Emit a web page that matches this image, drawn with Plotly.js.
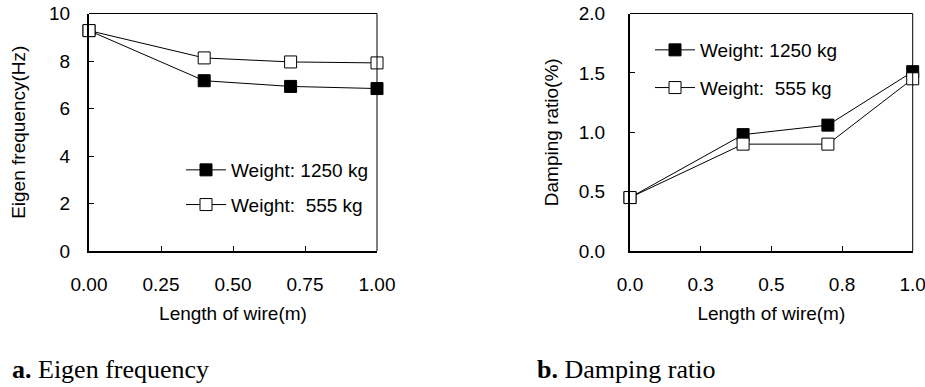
<!DOCTYPE html>
<html>
<head>
<meta charset="utf-8">
<script src="https://cdn.plot.ly/plotly-3.0.1.min.js"></script>
<style>html,body{margin:0;padding:0;background:#fff}#chart{width:925px;height:387px}</style>
</head>
<body>
<div id="chart"></div>
<script>
// Data
const wireLength = [0, 0.4, 0.7, 1.0];
const freq1250 = [9.28, 7.17, 6.93, 6.84];
const freq555 = [9.28, 8.13, 7.96, 7.92];
const damp1250 = [0.45, 0.98, 1.06, 1.51];
const damp555 = [0.45, 0.90, 0.90, 1.45];
const seriesNames = ['Weight: 1250 kg', 'Weight:  555 kg'];
const xTickValsA = [0, 0.25, 0.5, 0.75, 1.0];
const xTickTextA = ['0.00', '0.25', '0.50', '0.75', '1.00'];
const xTickTextB = ['0.0', '0.3', '0.5', '0.8', '1.0'];
const yTickValsA = [0, 2, 4, 6, 8, 10];
const yTickValsB = [0, 0.5, 1.0, 1.5, 2.0];
const yTickTextB = ['0.0', '0.5', '1.0', '1.5', '2.0'];

const FONT = 'Liberation Sans, Arial, sans-serif';
const fsz = 19;

function series(x, y, name, filled, xa, ya, leg) {
  return {
    x: x, y: y, name: name, type: 'scatter', mode: 'lines+markers',
    xaxis: xa, yaxis: ya, legend: leg, legendgroup: leg + name,
    cliponaxis: false,
    line: {color: '#000', width: 1},
    marker: {symbol: 'square', size: 12, color: filled ? '#000' : '#fff', line: {color: '#000', width: 1}}
  };
}

const data = [
  series(wireLength, freq1250, seriesNames[0], true, 'x', 'y', 'legend'),
  series(wireLength, freq555, seriesNames[1], false, 'x', 'y', 'legend'),
  series(wireLength, damp1250, seriesNames[0], true, 'x2', 'y2', 'legend2'),
  series(wireLength, damp555, seriesNames[1], false, 'x2', 'y2', 'legend2')
];

const axBase = {
  showline: true, linecolor: '#000', linewidth: 2, mirror: false,
  showgrid: false, zeroline: false, ticks: 'inside', ticklen: 5, tickwidth: 1, tickcolor: '#000',
  tickfont: {family: FONT, size: fsz, color: '#000'}, fixedrange: true, ticklabeloverflow: 'allow'
};

const yDom = [1 - 251 / 387, 1 - 13.5 / 387];

const layout = {
  width: 925, height: 387,
  margin: {l: 0, r: 0, t: 0, b: 0},
  paper_bgcolor: '#fff', plot_bgcolor: '#fff',
  font: {family: FONT, size: fsz, color: '#000'},
  showlegend: true,
  xaxis: Object.assign({}, axBase, {
    domain: [89 / 925, 377 / 925], range: [0, 1], tickvals: xTickValsA, ticktext: xTickTextA,
    ticklabelstandoff: 15, anchor: 'y',
    title: {text: 'Length of wire(m)', font: {family: FONT, size: fsz}, standoff: 13}
  }),
  yaxis: Object.assign({}, axBase, {
    domain: yDom, range: [0, 10], tickvals: yTickValsA, anchor: 'x',
    ticklabelstandoff: 13,
    title: {text: 'Eigen frequency(Hz)', font: {family: FONT, size: fsz}, standoff: 18}
  }),
  xaxis2: Object.assign({}, axBase, {
    domain: [630 / 925, 912.7 / 925], range: [0, 1], tickvals: xTickValsA, ticktext: xTickTextB,
    ticklabelstandoff: 15, anchor: 'y2',
    title: {text: 'Length of wire(m)', font: {family: FONT, size: fsz}, standoff: 13}
  }),
  yaxis2: Object.assign({}, axBase, {
    domain: yDom, range: [0, 2], tickvals: yTickValsB, ticktext: yTickTextB, anchor: 'x2',
    ticklabelstandoff: 19,
    title: {text: 'Damping ratio(%)', font: {family: FONT, size: fsz}, standoff: 15}
  }),
  legend: {
    x: 181 / 925, y: 1 - 151 / 387, xanchor: 'left', yanchor: 'top', itemwidth: 40,
    bgcolor: 'rgba(0,0,0,0)', borderwidth: 0, tracegroupgap: 7,
    font: {family: FONT, size: fsz, color: '#000'}
  },
  legend2: {
    x: 650 / 925, y: 1 - 31 / 387, xanchor: 'left', yanchor: 'top', itemwidth: 40,
    bgcolor: 'rgba(0,0,0,0)', borderwidth: 0, tracegroupgap: 10,
    font: {family: FONT, size: fsz, color: '#000'}
  },
  shapes: [
    {type: 'line', xref: 'x domain', yref: 'y domain', x0: 0, x1: 1, y0: 1, y1: 1, line: {color: '#000', width: 1}},
    {type: 'line', xref: 'x domain', yref: 'y domain', x0: 1, x1: 1, y0: 0, y1: 1, line: {color: '#000', width: 1}},
    {type: 'line', xref: 'x2 domain', yref: 'y2 domain', x0: 0, x1: 1, y0: 1, y1: 1, line: {color: '#000', width: 1}},
    {type: 'line', xref: 'x2 domain', yref: 'y2 domain', x0: 1, x1: 1, y0: 0, y1: 1, line: {color: '#000', width: 1}}
  ],
  annotations: [
    {text: '<b>a.</b> Eigen frequency', xref: 'paper', yref: 'paper', x: 10 / 925, y: 1 - 369 / 387,
     xanchor: 'left', yanchor: 'middle', showarrow: false,
     font: {family: 'Liberation Serif, Times New Roman, serif', size: 26, color: '#000'}},
    {text: '<b>b.</b> Damping ratio', xref: 'paper', yref: 'paper', x: 535 / 925, y: 1 - 369 / 387,
     xanchor: 'left', yanchor: 'middle', showarrow: false,
     font: {family: 'Liberation Serif, Times New Roman, serif', size: 26, color: '#000'}}
  ]
};

Plotly.newPlot('chart', data, layout, {staticPlot: true, displayModeBar: false});
</script>
</body>
</html>
